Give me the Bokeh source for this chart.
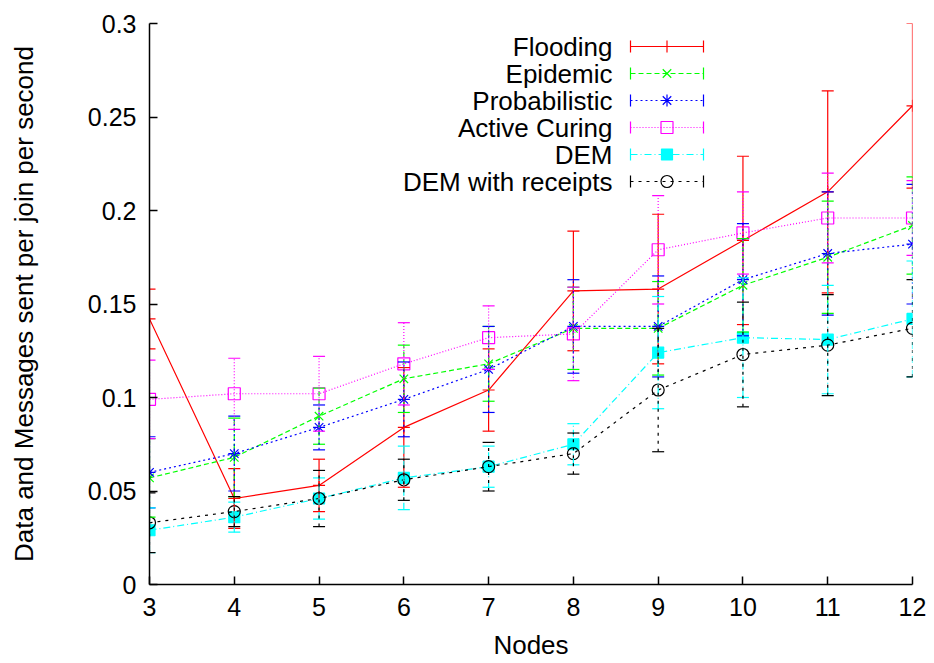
from bokeh.plotting import figure
from bokeh.models import Range1d, FixedTicker, ColumnDataSource, Whisker, TeeHead
from bokeh.core.properties import value
from bokeh.embed import file_html
from bokeh.resources import INLINE

nodes = [3, 4, 5, 6, 7, 8, 9, 10, 11, 12]

flooding = [0.142, 0.046, 0.053, 0.084, 0.104, 0.157, 0.158, 0.184, 0.210, 0.256]
flooding_err = [0.016, 0.016, 0.014, 0.032, 0.022, 0.032, 0.040, 0.045, 0.054, 0.044]

epidemic = [0.057, 0.068, 0.090, 0.110, 0.118, 0.137, 0.137, 0.160, 0.175, 0.192]
epidemic_err = [0.021, 0.021, 0.015, 0.018, 0.020, 0.022, 0.025, 0.025, 0.030, 0.026]

probabilistic = [0.060, 0.070, 0.084, 0.099, 0.115, 0.138, 0.138, 0.163, 0.177, 0.182]
probabilistic_err = [0.019, 0.020, 0.012, 0.020, 0.023, 0.025, 0.027, 0.030, 0.033, 0.032]

active_curing = [0.099, 0.102, 0.102, 0.118, 0.132, 0.134, 0.179, 0.188, 0.196, 0.196]
active_curing_err = [0.021, 0.019, 0.020, 0.022, 0.017, 0.025, 0.029, 0.022, 0.024, 0.020]

dem = [0.029, 0.036, 0.046, 0.057, 0.063, 0.075, 0.124, 0.132, 0.131, 0.142]
dem_err = [0.012, 0.008, 0.011, 0.017, 0.011, 0.011, 0.030, 0.032, 0.029, 0.031]

dem_receipts = [0.033, 0.039, 0.046, 0.056, 0.063, 0.070, 0.104, 0.123, 0.128, 0.137]
dem_receipts_err = [0.016, 0.008, 0.015, 0.011, 0.013, 0.011, 0.033, 0.028, 0.027, 0.026]

y_ticks = [0, 0.05, 0.1, 0.15, 0.2, 0.25, 0.3]
y_tick_labels = ["0", "0.05", "0.1", "0.15", "0.2", "0.25", "0.3"]

# name, values, errors, colour, dash, marker, filled
series = [
    ("Flooding", flooding, flooding_err, "#ff0000", "solid", "cross", False),
    ("Epidemic", epidemic, epidemic_err, "#00ff00", "5 3", "x", False),
    ("Probabilistic", probabilistic, probabilistic_err, "#0000ff", "2 3", "asterisk", False),
    ("Active Curing", active_curing, active_curing_err, "#ff00ff", "1 2", "square", False),
    ("DEM", dem, dem_err, "#00ffff", "7 3 1 3", "square", True),
    ("DEM with receipts", dem_receipts, dem_receipts_err, "#000000", "3 5", "circle", False),
]

FONT = "Liberation Sans"
FS = "26px"
W, H = 934, 663
L, R, T, B = 149, 22, 23, 79

p = figure(width=W, height=H, output_backend="svg", toolbar_location=None,
           x_range=Range1d(3, 12), y_range=Range1d(0, 0.3),
           min_border_left=L, min_border_right=R, min_border_top=T, min_border_bottom=B)
p.outline_line_color = None
p.grid.visible = False
p.background_fill_color = "white"

for ax in (p.xaxis[0], p.yaxis[0]):
    ax.axis_line_color = "black"
    ax.axis_line_width = 1.5
    ax.major_tick_line_color = "black"
    ax.major_tick_line_width = 1.5
    ax.major_tick_in = 8
    ax.major_tick_out = 0
    ax.minor_tick_line_color = None
    ax.major_label_text_font = FONT
    ax.major_label_text_font_size = "25px"
    ax.major_label_text_color = "black"
    ax.axis_label_text_font = FONT
    ax.axis_label_text_font_size = FS
    ax.axis_label_text_font_style = "normal"
    ax.axis_label_text_color = "black"

p.xaxis.ticker = FixedTicker(ticks=nodes)
p.xaxis.major_label_standoff = 13
p.xaxis.axis_label = "Nodes"
p.xaxis.axis_label_standoff = 11

p.yaxis.ticker = FixedTicker(ticks=y_ticks)
p.yaxis.major_label_overrides = {t: s for t, s in zip(y_ticks, y_tick_labels)}
p.yaxis.major_label_standoff = 13
p.yaxis.axis_label = "Data and Messages sent per join per second"
p.yaxis.axis_label_standoff = 46

frame_w = W - L - R
frame_h = H - T - B


def px2x(px):
    return 3 + (px - L) / frame_w * 9


def py2y(py):
    return (H - B - py) / frame_h * 0.3


for name, vals, errs, color, dash, marker, filled in series:
    src = ColumnDataSource(dict(
        x=nodes, y=vals,
        upper=[v + e for v, e in zip(vals, errs)],
        lower=[v - e for v, e in zip(vals, errs)],
    ))
    w = Whisker(source=src, base="x", upper="upper", lower="lower",
                line_color=color, line_width=1.2, line_dash=dash, level="glyph",
                upper_head=TeeHead(size=12, line_color=color, line_width=1.2),
                lower_head=TeeHead(size=12, line_color=color, line_width=1.2))
    p.add_layout(w)
    p.line("x", "y", source=src, line_color=color, line_width=1.2, line_dash=dash)
    size = 11 if filled else 12
    p.scatter("x", "y", source=src, marker=marker, size=size, line_color=color,
              fill_color=color if filled else None, line_width=1.2)

# legend (gnuplot style: text right-aligned, sample to the right)
leg_text_px = 612
leg_x0_px, leg_x1_px = 630, 703
leg_rows_px = [46, 73, 100, 127, 154, 181]
for (name, vals, errs, color, dash, marker, filled), ry in zip(series, leg_rows_px):
    yy = py2y(ry)
    p.text(x=[px2x(leg_text_px)], y=[yy], text=[name], text_align="right",
           text_baseline="middle", text_font=value(FONT), text_font_size=FS,
           text_color="black")
    x0, x1 = px2x(leg_x0_px), px2x(leg_x1_px)
    p.segment(x0=[x0], y0=[yy], x1=[x1], y1=[yy], line_color=color, line_width=1.2,
              line_dash=dash)
    dy = py2y(ry - 6) - yy
    p.segment(x0=[x0, x1], y0=[yy - dy, yy - dy], x1=[x0, x1], y1=[yy + dy, yy + dy],
              line_color=color, line_width=1.2)
    size = 11 if filled else 12
    p.scatter(x=[(x0 + x1) / 2], y=[yy], marker=marker, size=size, line_color=color,
              fill_color=color if filled else None, line_width=1.2)

open("out.html", "w").write(file_html(p, INLINE))
